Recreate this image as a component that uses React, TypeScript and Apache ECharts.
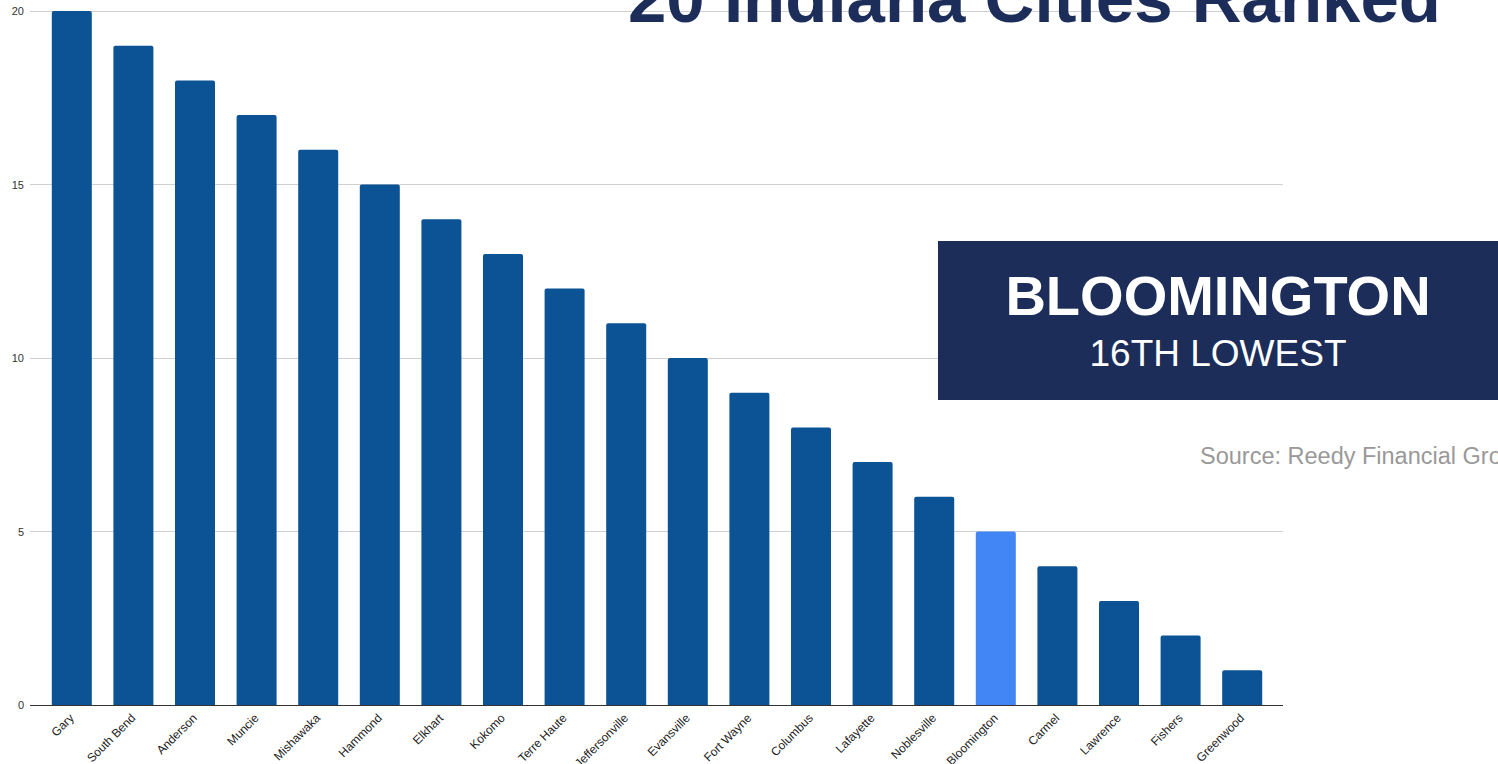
import React, { useEffect, useRef } from "react";
import * as echarts from "echarts";

const cities = [
  "Gary", "South Bend", "Anderson", "Muncie", "Mishawaka", "Hammond", "Elkhart",
  "Kokomo", "Terre Haute", "Jeffersonville", "Evansville", "Fort Wayne", "Columbus",
  "Lafayette", "Noblesville", "Bloomington", "Carmel", "Lawrence", "Fishers", "Greenwood",
];
const ranks = [20, 19, 18, 17, 16, 15, 14, 13, 12, 11, 10, 9, 8, 7, 6, 5, 4, 3, 2, 1];
const highlightCity = "Bloomington";
const yTicks = { min: 0, max: 20, interval: 5 };
const titleText = "20 Indiana Cities Ranked";
const boxTitle = "BLOOMINGTON";
const boxSub = "16TH LOWEST";
const sourceText = "Source: Reedy Financial Group";

export default function App() {
  const ref = useRef<HTMLDivElement>(null);
  useEffect(() => {
    if (!ref.current) return;
    const chart = echarts.init(ref.current, undefined, { renderer: "svg" });
    const font = "'Liberation Sans', Arial, sans-serif";
    chart.setOption({
      animation: false,
      textStyle: { fontFamily: font },
      grid: [
        { left: 30, right: 215, top: 11, bottom: 59, outerBoundsMode: "none", containLabel: false },
        { left: 41, right: 225, top: 11, bottom: 59, outerBoundsMode: "none", containLabel: false },
      ],
      xAxis: [
        { type: "category", gridIndex: 0, data: cities, show: false },
        {
          type: "category",
          gridIndex: 1,
          data: cities,
          axisLine: { show: false },
          axisTick: { show: false },
          axisLabel: {
            rotate: 45,
            fontSize: 12,
            color: "#222",
            margin: 11,
            interval: 0,
            fontFamily: font,
            padding: [0, 0, 0, 0],
          },
        },
      ],
      yAxis: [
        {
          type: "value",
          gridIndex: 0,
          min: yTicks.min,
          max: yTicks.max,
          interval: yTicks.interval,
          axisLine: { show: false },
          axisTick: { show: false },
          axisLabel: { fontSize: 11, color: "#333", margin: 6, fontFamily: font },
          splitLine: { lineStyle: { color: "#d0d0d0", width: 1 } },
        },
        {
          type: "value",
          gridIndex: 1,
          min: yTicks.min,
          max: yTicks.max,
          interval: yTicks.interval,
          show: false,
          splitLine: { show: false },
        },
      ],
      series: [
        {
          type: "line",
          xAxisIndex: 0,
          yAxisIndex: 0,
          data: [],
          markLine: {
            silent: true,
            symbol: "none",
            label: { show: false },
            lineStyle: { color: "#333", width: 1, type: "solid" },
            data: [{ yAxis: 0 }],
          },
        },
        {
          type: "bar",
          xAxisIndex: 1,
          yAxisIndex: 1,
          barWidth: 40,
          data: ranks.map((v, i) => ({
            value: v,
            itemStyle: {
              color: cities[i] === highlightCity ? "#4285f4" : "#0b5394",
              borderRadius: [2, 2, 0, 0],
            },
          })),
        },
      ],
      graphic: [
        {
          type: "text",
          left: 628,
          top: -36,
          style: {
            text: titleText,
            fontSize: 69,
            fontWeight: "bold",
            fill: "#1c2d5a",
            fontFamily: font,
          },
          z: 10,
        },
        {
          type: "rect",
          shape: { x: 938, y: 241, width: 560, height: 159 },
          style: { fill: "#1c2d5a" },
          z: 10,
        },
        {
          type: "text",
          x: 1218,
          y: 323,
          style: {
            text: boxTitle,
            fontSize: 56,
            fontWeight: "bold",
            fill: "#fff",
            align: "center",
            verticalAlign: "bottom",
            fontFamily: font,
          },
          z: 11,
        },
        {
          type: "text",
          x: 1218,
          y: 372,
          style: {
            text: boxSub,
            fontSize: 37,
            fill: "#fff",
            align: "center",
            verticalAlign: "bottom",
            fontFamily: font,
          },
          z: 11,
        },
        {
          type: "text",
          x: 1200,
          y: 468,
          style: {
            text: sourceText,
            fontSize: 23.5,
            fill: "#999",
            verticalAlign: "bottom",
            fontFamily: font,
          },
          z: 11,
        },
      ],
    });
    return () => chart.dispose();
  }, []);
  return (
    <div
      ref={ref}
      style={{ position: "absolute", left: 0, top: 0, width: 1498, height: 764, background: "#fff" }}
    />
  );
}
